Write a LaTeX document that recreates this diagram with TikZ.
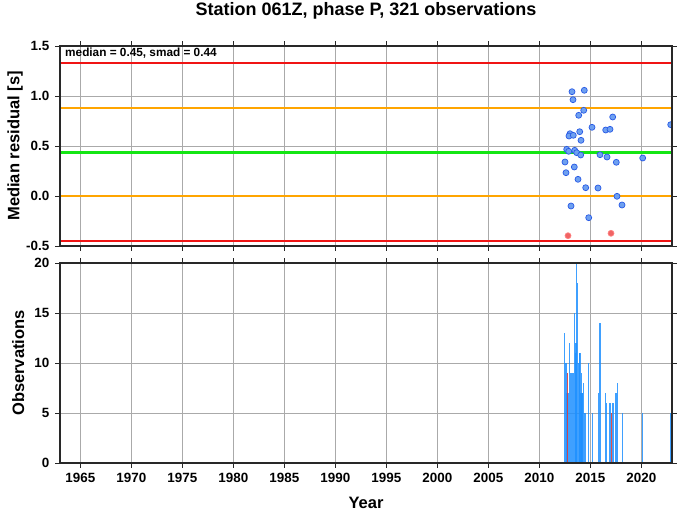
\documentclass[tikz,border=0pt]{standalone}
\usepackage{fontspec}
\setmainfont{Liberation Sans}
\definecolor{cred}{RGB}{240,20,20}
\definecolor{corange}{RGB}{255,165,0}
\definecolor{cgreen}{RGB}{20,230,20}
\definecolor{cgrid}{RGB}{170,170,170}
\definecolor{cframe}{RGB}{40,40,40}
\definecolor{cdotf}{RGB}{110,160,240}
\definecolor{cdotd}{RGB}{40,90,230}
\definecolor{credf}{RGB}{240,100,100}
\definecolor{credd}{RGB}{255,130,130}
\definecolor{cbar}{RGB}{30,144,255}
\definecolor{cbarred}{RGB}{220,60,60}
\begin{document}
\begin{tikzpicture}[x=1pt,y=-1pt,
  gridline/.style={cgrid, line width=0.6pt},
  frameline/.style={cframe, line width=1.8pt},
  tickmark/.style={cframe, line width=0.8pt},
  ticklabel/.style={font=\fontsize{13.4}{14}\selectfont\bfseries, inner sep=0pt},
  axislabel/.style={font=\fontsize{16.5}{18}\selectfont\bfseries, inner sep=0pt},
  obsbar/.style={cbar, line width=1.5pt, opacity=0.85},
  redbar/.style={cbarred, line width=1.4pt, opacity=0.9},
  bluedot/.style={fill=cdotf, draw=cdotd, line width=0.7pt},
  reddot/.style={fill=credf, draw=credd, line width=0.7pt},
  refline/.style={line width=2pt},
]
\useasboundingbox[fill=white] (0,0) rectangle (678,511);

% ---------- title ----------
\node[font=\fontsize{18}{20}\selectfont\bfseries, anchor=base, inner sep=0pt] (title) at (366,15.5) {Station 061Z, phase P, 321 observations};

% ---------- grids ----------
\foreach \yr in {1965,1970,...,2020} {
  \pgfmathsetmacro\gx{60+10.2*(\yr-1963)}
  \draw[gridline] (\gx,46) -- (\gx,246);
  \draw[gridline] (\gx,263) -- (\gx,463);
  \draw[tickmark] (\gx,46) -- (\gx,41);
  \draw[tickmark] (\gx,246) -- (\gx,251);
  \draw[tickmark] (\gx,263) -- (\gx,258);
  \draw[tickmark] (\gx,463) -- (\gx,468);
  \node[ticklabel, anchor=base] (yl\yr) at (\gx,482) {\yr};
}
\foreach \gy in {96,146,196} \draw[gridline] (60,\gy) -- (672,\gy);
\foreach \gy in {313,363,413} \draw[gridline] (60,\gy) -- (672,\gy);

% ---------- y ticks ----------
\foreach \gy/\lab in {46/1.5,96/1.0,146/0.5,196/0.0,246/-0.5} {
  \draw[tickmark] (60,\gy) -- (55,\gy);
  \draw[tickmark] (672,\gy) -- (677,\gy);
  \node[ticklabel, anchor=east] at (49.5,\gy) {\lab};
}
\foreach \gy/\lab in {263/20,313/15,363/10,413/5,463/0} {
  \draw[tickmark] (60,\gy) -- (55,\gy);
  \draw[tickmark] (672,\gy) -- (677,\gy);
  \node[ticklabel, anchor=east] at (49.5,\gy) {\lab};
}

% ---------- reference lines ----------
\draw[refline, cred] (60,63.5) -- (672,63.5);
\draw[refline, corange] (60,108) -- (672,108);
\draw[refline, cgreen, line width=3pt] (60,152) -- (672,152);
\draw[refline, corange] (60,196.3) -- (672,196.3);
\draw[refline, cred] (60,240.5) -- (672,240.5);

% ---------- residual dots ----------
\begin{scope}
\clip (60,46) rectangle (672,246);
\foreach \px/\py in {572/91.7,584.3/90.3,573/99.7,583.7/110.3,578.7/115.3,612.7/117,
  670.7/124.7,592/127.3,605.7/130,610/129.3,579.7/131.7,570/133.7,569/136,573.3/135.3,
  581/140.3,566.7/149.3,568.7/151.3,574.7/150.3,576.7/152.7,580.7/155,600/154.7,
  607/157,642.7/158,565/162,616.3/162.3,574.3/167,566/172.7,578/179.3,585.7/187.7,
  598/188,617/196.3,571/206,622/205,588.7/217.7}
  \filldraw[bluedot] (\px,\py) circle (3pt);
\filldraw[reddot] (568,235.7) circle (3pt);
\filldraw[reddot] (611,233.3) circle (3pt);
\end{scope}

% ---------- observation bars ----------
\begin{scope}
\clip (60,263) rectangle (672,463);
\foreach \bx/\bn in {564.7/13,566/10,567/7,568.3/7,569.3/12,570.5/9,571.5/9,572.5/9,573.3/9,
  574.3/15,575.3/11,575.9/12,576.7/20,577.7/18,578.5/10,579.3/11,580.1/11,580.8/7,581.3/9,
  582.1/7,582.5/7,583.4/8,584.3/5,585.3/5,588.3/10,592.3/5,598.3/7,600/14,605.5/7,606.7/6,
  610/6,613/6,616/7,617.3/8,622.3/5,642.3/5,670.3/5}
  \draw[obsbar] (\bx,463) -- (\bx,463-10*\bn);
\draw[redbar] (567.3,463) -- (567.3,373);
\draw[redbar] (611.5,463) -- (611.5,413);
\end{scope}

% ---------- frames ----------
\draw[frameline] (60,46) rectangle (672,246);
\draw[frameline] (60,263) rectangle (672,463);

% ---------- texts ----------
\node[font=\fontsize{11.8}{13}\selectfont\bfseries, anchor=base west, inner sep=0pt] (stats) at (65,57) {median = 0.45, smad = 0.44};
\node[axislabel, rotate=90, anchor=base] (ylab1) at (19.5,146) {Median residual [s]};
\node[axislabel, rotate=90, anchor=base] (ylab2) at (24,363) {Observations};
\node[axislabel, anchor=base] (xlab) at (366,508) {Year};
\end{tikzpicture}
\end{document}
